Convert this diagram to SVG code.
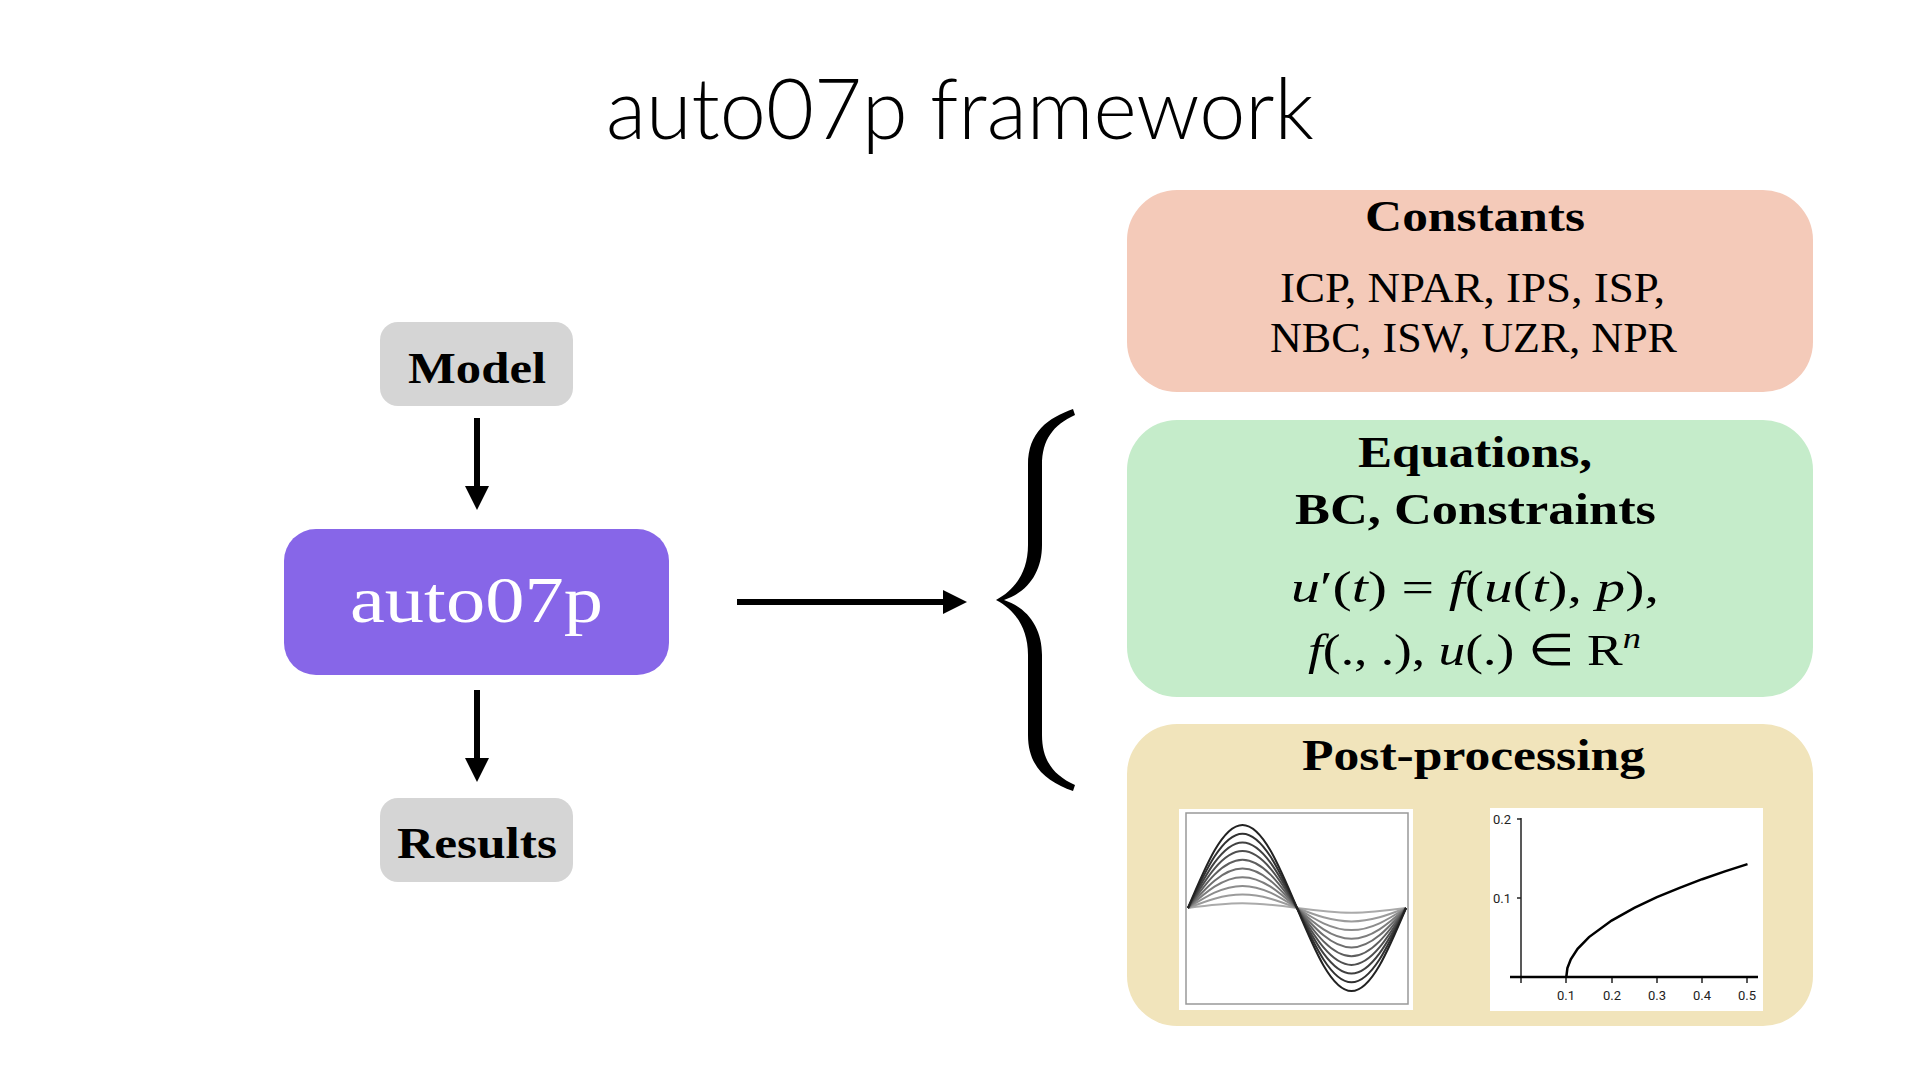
<svg xmlns="http://www.w3.org/2000/svg" width="1920" height="1080" viewBox="0 0 1920 1080">
<style>
.bold{font-family:"Liberation Serif","Times New Roman",serif;font-weight:bold;font-size:44px;fill:#000}
.reg{font-family:"Liberation Serif","Times New Roman",serif;font-size:42px;fill:#000}
.math{font-family:"Liberation Serif","Times New Roman",serif;font-size:44px;fill:#000}
.it{font-style:italic}
.title{font-family:Lato,"Open Sans",sans-serif;font-weight:300;font-size:84px;fill:#000}
.tick{font-family:Roboto,"Liberation Sans",sans-serif;font-size:13px;fill:#222}
.conn{stroke:#000;stroke-width:6;fill:none}
.grayBox{fill:#d5d5d5}
</style>
<defs>
<marker id="ah" markerUnits="userSpaceOnUse" markerWidth="24" markerHeight="24" refX="0" refY="12" orient="auto" viewBox="0 0 24 24">
<path d="M0,0 L24,12 L0,24 Z" fill="#000"/>
</marker>
</defs>
<rect width="1920" height="1080" fill="#fff"/>
<text class="title" x="606" y="139" textLength="708" lengthAdjust="spacingAndGlyphs">auto07p framework</text>

<g id="model">
<rect class="grayBox" x="380" y="322" width="193" height="84" rx="18"/>
<text class="bold" x="408" y="383" textLength="138" lengthAdjust="spacingAndGlyphs">Model</text>
</g>
<g id="auto07p">
<rect x="284" y="529" width="385" height="146" rx="32" fill="#8766e8"/>
<text x="350" y="622" textLength="253" lengthAdjust="spacingAndGlyphs" style="font-family:'Liberation Serif',serif;font-size:66px;fill:#fff">auto07p</text>
</g>
<g id="results">
<rect class="grayBox" x="380" y="798" width="193" height="84" rx="18"/>
<text class="bold" x="397" y="858" textLength="160" lengthAdjust="spacingAndGlyphs">Results</text>
</g>

<g id="connectors">
<line class="conn" x1="477" y1="418" x2="477" y2="486" marker-end="url(#ah)"/>
<line class="conn" x1="477" y1="690" x2="477" y2="758" marker-end="url(#ah)"/>
<line class="conn" x1="737" y1="602" x2="943" y2="602" marker-end="url(#ah)"/>
</g>

<g id="brace">
<path d="M1073,409 C1048,418 1028,432 1028,465 L1028,545 C1028,572 1015,590 996,600 C1015,610 1028,628 1028,655 L1028,735 C1028,768 1048,782 1073,791 L1075,785 C1053,775 1042,760 1042,735 L1042,655 C1042,628 1028,608 1004,600 C1028,592 1042,572 1042,545 L1042,465 C1042,440 1053,425 1075,415 Z" fill="#000"/>
</g>

<g id="constants">
<rect x="1127" y="190" width="686" height="202" rx="50" fill="#f4cab9"/>
<text class="bold" x="1365" y="231" textLength="220" lengthAdjust="spacingAndGlyphs">Constants</text>
<text class="reg" x="1280" y="302" textLength="385" lengthAdjust="spacingAndGlyphs">ICP, NPAR, IPS, ISP,</text>
<text class="reg" x="1270" y="352" textLength="407" lengthAdjust="spacingAndGlyphs">NBC, ISW, UZR, NPR</text>
</g>

<g id="equations">
<rect x="1127" y="420" width="686" height="277" rx="50" fill="#c5ecca"/>
<text class="bold" x="1358" y="467" textLength="234" lengthAdjust="spacingAndGlyphs">Equations,</text>
<text class="bold" x="1295" y="524" textLength="361" lengthAdjust="spacingAndGlyphs">BC, Constraints</text>
<text class="math" x="1291" y="602" textLength="368" lengthAdjust="spacingAndGlyphs"><tspan class="it">u</tspan>′(<tspan class="it">t</tspan>) = <tspan class="it">f</tspan>(<tspan class="it">u</tspan>(<tspan class="it">t</tspan>), <tspan class="it">p</tspan>),</text>
<text class="math" x="1308" y="665" textLength="333" lengthAdjust="spacingAndGlyphs"><tspan class="it">f</tspan>(., .), <tspan class="it">u</tspan>(.) ∈ R<tspan class="it" dy="-17" font-size="30">n</tspan></text>
</g>

<g id="postprocessing">
<rect x="1127" y="724" width="686" height="302" rx="50" fill="#f1e4bb"/>
<text class="bold" x="1302" y="770" textLength="343" lengthAdjust="spacingAndGlyphs">Post-processing</text>
<g id="plot-waves">
<rect x="1179" y="809" width="234" height="201" fill="#fff"/>
<rect x="1186" y="813" width="222" height="191" fill="none" stroke="#999" stroke-width="1.5"/>
<g fill="none" stroke-width="2">
<path stroke="#aaaaaa" d="M1188,908 C1205.77,905.59 1222.78,903.3 1242.5,903.3 S1279.23,905.59 1297,908 S1331.78,912.7 1351.5,912.7 S1388.23,910.41 1406,908"/>
<path stroke="#9b9b9b" d="M1188,908 C1205.77,901.14 1222.78,894.6 1242.5,894.6 S1279.23,901.14 1297,908 S1331.78,921.4 1351.5,921.4 S1388.23,914.86 1406,908"/>
<path stroke="#8c8c8c" d="M1188,908 C1205.77,896.68 1222.78,885.9 1242.5,885.9 S1279.23,896.68 1297,908 S1331.78,930.1 1351.5,930.1 S1388.23,919.32 1406,908"/>
<path stroke="#7d7d7d" d="M1188,908 C1205.77,892.22 1222.78,877.2 1242.5,877.2 S1279.23,892.22 1297,908 S1331.78,938.8 1351.5,938.8 S1388.23,923.78 1406,908"/>
<path stroke="#6e6e6e" d="M1188,908 C1205.77,887.76 1222.78,868.5 1242.5,868.5 S1279.23,887.76 1297,908 S1331.78,947.5 1351.5,947.5 S1388.23,928.24 1406,908"/>
<path stroke="#5e5e5e" d="M1188,908 C1205.77,883.31 1222.78,859.8 1242.5,859.8 S1279.23,883.31 1297,908 S1331.78,956.2 1351.5,956.2 S1388.23,932.69 1406,908"/>
<path stroke="#4f4f4f" d="M1188,908 C1205.77,878.85 1222.78,851.1 1242.5,851.1 S1279.23,878.85 1297,908 S1331.78,964.9 1351.5,964.9 S1388.23,937.15 1406,908"/>
<path stroke="#404040" d="M1188,908 C1205.77,874.39 1222.78,842.4 1242.5,842.4 S1279.23,874.39 1297,908 S1331.78,973.6 1351.5,973.6 S1388.23,941.61 1406,908"/>
<path stroke="#313131" d="M1188,908 C1205.77,869.94 1222.78,833.7 1242.5,833.7 S1279.23,869.94 1297,908 S1331.78,982.3 1351.5,982.3 S1388.23,946.06 1406,908"/>
<path stroke="#222222" d="M1188,908 C1205.77,865.48 1222.78,825 1242.5,825 S1279.23,865.48 1297,908 S1331.78,991 1351.5,991 S1388.23,950.52 1406,908"/>
</g>
</g>
<g id="plot-branch">
<rect x="1490" y="808" width="273" height="203" fill="#fff"/>
<g stroke="#222" fill="none">
<line x1="1521" y1="818" x2="1521" y2="983" stroke-width="1.5"/>
<line x1="1517" y1="819" x2="1521" y2="819" stroke-width="1.5"/>
<line x1="1517" y1="898" x2="1521" y2="898" stroke-width="1.5"/>
<line x1="1566" y1="977" x2="1566" y2="983" stroke-width="1.5"/>
<line x1="1612" y1="977" x2="1612" y2="983" stroke-width="1.5"/>
<line x1="1657" y1="977" x2="1657" y2="983" stroke-width="1.5"/>
<line x1="1702" y1="977" x2="1702" y2="983" stroke-width="1.5"/>
<line x1="1747" y1="977" x2="1747" y2="983" stroke-width="1.5"/>
<line x1="1510" y1="977" x2="1758" y2="977" stroke-width="2.5" stroke="#000"/>
<polyline stroke="#000" stroke-width="2.5" points="1566.3,977 1567.4,968.1 1570.8,959.2 1577.6,948.8 1589,937.1 1611.6,920.6 1634.3,907.9 1656.9,897.2 1679.6,887.8 1702.2,879.2 1724.9,871.4 1747.5,864.1"/>
</g>
<text class="tick" x="1511" y="824" text-anchor="end">0.2</text>
<text class="tick" x="1511" y="903" text-anchor="end">0.1</text>
<text class="tick" x="1566" y="1000" text-anchor="middle">0.1</text>
<text class="tick" x="1612" y="1000" text-anchor="middle">0.2</text>
<text class="tick" x="1657" y="1000" text-anchor="middle">0.3</text>
<text class="tick" x="1702" y="1000" text-anchor="middle">0.4</text>
<text class="tick" x="1747" y="1000" text-anchor="middle">0.5</text>
</g>
</g>
</svg>
